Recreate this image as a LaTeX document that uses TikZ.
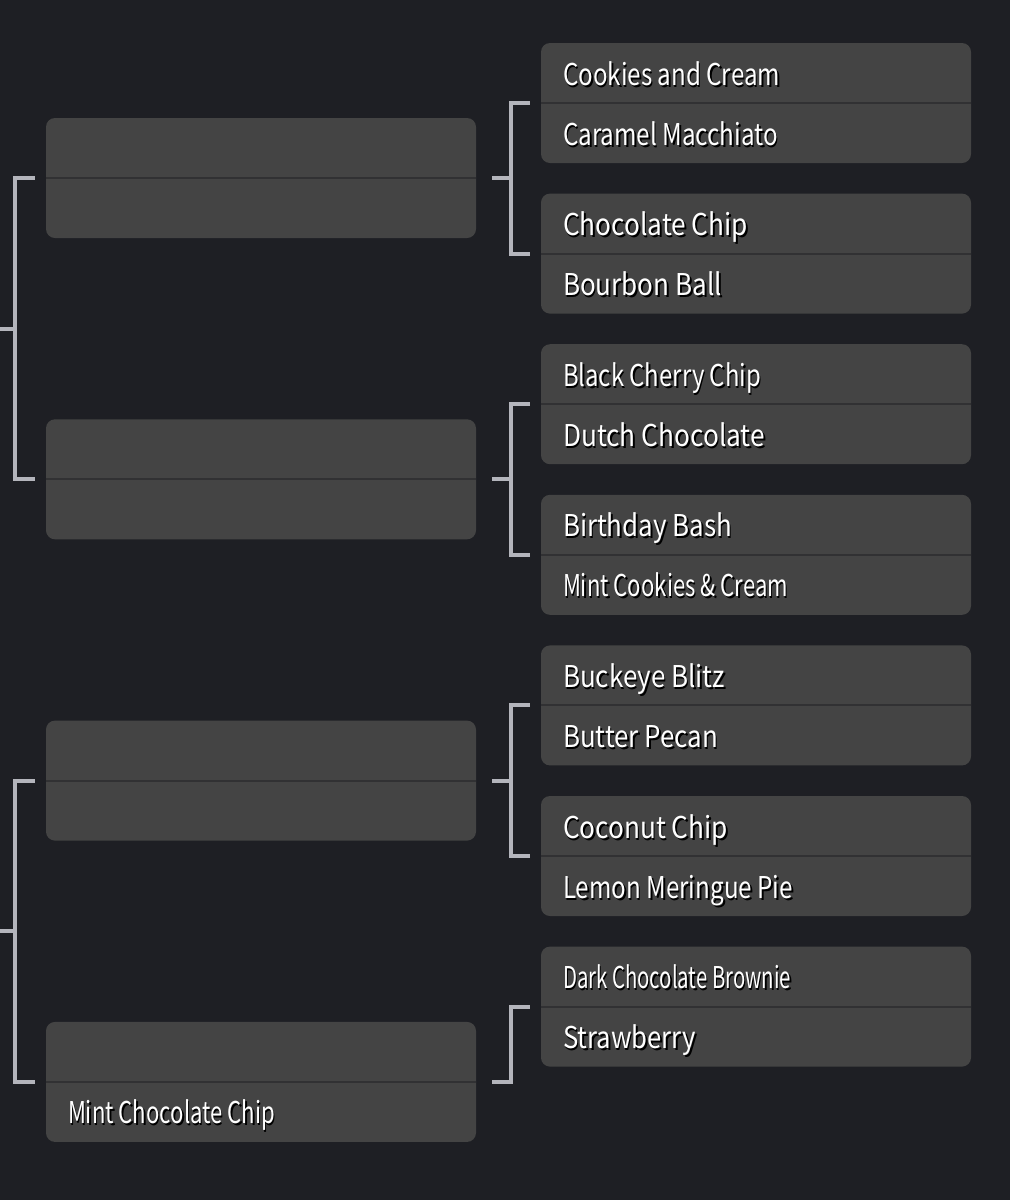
\documentclass[tikz,border=0pt]{standalone}
\usepackage{fontspec}
\setmainfont{Noto Sans CJK KR}
\usepackage{graphicx}
\usetikzlibrary{positioning,calc}

\definecolor{bgdark}{HTML}{1E1F24}
\definecolor{boxgray}{HTML}{444444}
\definecolor{rulegray}{HTML}{313133}
\definecolor{bracketgray}{HTML}{B4B5BC}

\newcommand\shadowed[1]{\makebox[0pt][l]{\kern2pt\raisebox{-2pt}{\color{black}#1}}#1}
\newcommand\fitw[2]{\setbox0=\hbox{#2}\pgfmathsetmacro\fitfac{#1/\the\wd0}\scalebox{\fitfac}[1]{\shadowed{#2}}}

\tikzset{
  flavorbox/.style={draw=none, fill=boxgray, rounded corners=9pt, minimum width=430pt, minimum height=120pt, inner sep=0pt},
  divider/.style={draw=rulegray, line width=2pt},
  flavor/.style={anchor=base west, inner sep=0pt, text=white, font=\fontsize{30}{36}\selectfont},
  bracket/.style={draw=bracketgray, line width=4pt},
}

\begin{document}
\begin{tikzpicture}[x=1pt,y=-1pt]
  \fill[bgdark] (0,0) rectangle (1010,1200);
  \useasboundingbox (0,0) rectangle (1010,1200);

  % right column: seven pairings
  \foreach \i/\ta/\wa/\tb/\wb in {1/Cookies and Cream/217/Caramel Macchiato/215,
      2/Chocolate Chip/185/Bourbon Ball/159,
      3/Black Cherry Chip/198/Dutch Chocolate/202,
      4/Birthday Bash/169/Mint Cookies \& Cream/225,
      5/Buckeye Blitz/162/Butter Pecan/155,
      6/Coconut Chip/165/Lemon Meringue Pie/230,
      7/Dark Chocolate Brownie/228/Strawberry/133}{
    \node[flavorbox] (r\i) at (756,{103+150.6*(\i-1)}) {};
    \draw[divider] (r\i.west) -- (r\i.east);
    \node[flavor] (r\i top) at ([xshift=22pt,yshift=18pt]r\i.west) {\fitw{\wa}{\ta}};
    \node[flavor] (r\i bot) at ([xshift=22pt,yshift=-42pt]r\i.west) {\fitw{\wb}{\tb}};
  }

  % left column: next round
  \foreach \i in {1,...,4}{
    \node[flavorbox] (l\i) at (261,{178+301.3*(\i-1)}) {};
    \draw[divider] (l\i.west) -- (l\i.east);
  }
  \node[flavor] (l4 bot) at ([xshift=22pt,yshift=-42pt]l4.west) {\fitw{207}{Mint Chocolate Chip}};

  % brackets
  \foreach \a/\b/\l in {1/2/1,3/4/2,5/6/3}{
    \draw[bracket] ([xshift=-11pt]r\a.west) -- ([xshift=-30pt]r\a.west) |- ([xshift=-11pt]r\b.west);
    \draw[bracket] ([xshift=16pt]l\l.east) -- ([xshift=35pt]l\l.east);
  }
  \draw[bracket] ([xshift=-11pt]r7.west) -- ([xshift=-30pt]r7.west) |- ([xshift=16pt]l4.east);

  \foreach \a/\b in {1/2,3/4}{
    \draw[bracket] ([xshift=-11pt]l\a.west) -- ([xshift=-31pt]l\a.west) |- ([xshift=-11pt]l\b.west);
    \draw[bracket] ($(l\a.west)!0.5!(l\b.west)+(-31pt,0)$) -- ++(-15pt,0);
  }
\end{tikzpicture}
\end{document}
